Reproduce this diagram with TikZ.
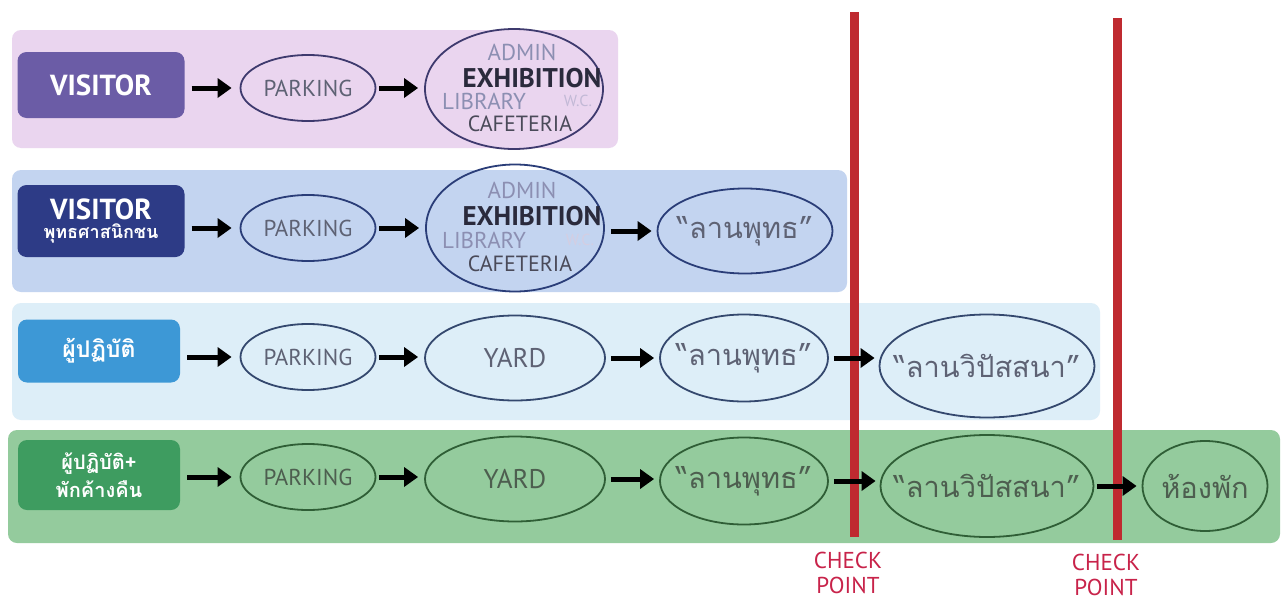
\documentclass[tikz,border=0pt]{standalone}
\usepackage{fontspec}
\setmainfont{PT Sans}
\newfontfamily\thaifont[Script=Thai]{Loma}
\usetikzlibrary{shapes.geometric,arrows.meta}
\definecolor{bgpink}{HTML}{EAD5EF}
\definecolor{bgblue}{HTML}{C3D4F0}
\definecolor{bgsky}{HTML}{DDEEF8}
\definecolor{bggreen}{HTML}{94CB9D}
\definecolor{boxpurple}{HTML}{6B5CA6}
\definecolor{boxnavy}{HTML}{2D3B86}
\definecolor{boxsky}{HTML}{3D98D6}
\definecolor{boxgreen}{HTML}{3E9C60}
\definecolor{lnpurple}{HTML}{3E3A6E}
\definecolor{lnnavy}{HTML}{2A3D78}
\definecolor{lnslate}{HTML}{34486E}
\definecolor{lngreen}{HTML}{2F5E36}
\definecolor{txtgray}{HTML}{5E6274}
\definecolor{txtgreen}{HTML}{4D5E4F}
\definecolor{chkred}{HTML}{BF2A30}
\definecolor{chktext}{HTML}{C8234A}
\definecolor{dimtext}{HTML}{8C8FB2}
\definecolor{faintext}{HTML}{C2B9D6}
\definecolor{darktext}{HTML}{2A2A3C}
\newcommand{\zw}[1]{\makebox[0pt]{#1}}
\tikzset{
  band/.style={rounded corners=9pt, draw=none},
  lbl/.style={rounded corners=9pt, text=white, align=center, inner sep=0pt},
  oval/.style={ellipse, draw, line width=1.8pt, inner sep=0pt, text=txtgray},
  flow/.style={line width=5pt, -{Triangle[length=14pt,width=19pt]}, black},
  sm/.style={font=\fontsize{23}{24}\selectfont},
  md/.style={font=\fontsize{27}{29}\selectfont},
  th/.style={font=\thaifont\fontsize{29}{31}\selectfont},
  chk/.style={text=chktext, font=\fontsize{23}{25}\selectfont, align=center},
  redline/.style={line width=9pt, chkred}
}
\begin{document}
\begin{tikzpicture}[x=1pt,y=-1pt]
\useasboundingbox[fill=white] (0,0) rectangle (1283,605);
% bands
\fill[band, bgpink] (12,30) rectangle (618,148);
\fill[band, bgblue] (12,170) rectangle (847,292);
\fill[band, bgsky] (12,303) rectangle (1100,420);
\fill[band, bggreen] (8,430) rectangle (1280,543);
% row 1
\node[lbl, fill=boxpurple, minimum width=167pt, minimum height=66pt, font=\bfseries\fontsize{29}{31}\selectfont] (v1) at (101,85) {VISITOR};
\node[oval, draw=lnpurple, minimum width=135pt, minimum height=66pt, sm] (p1) at (308,88) {\zw{PARKING}};
\node[oval, draw=lnpurple, minimum width=178pt, minimum height=120pt] (b1) at (514,89) {};
\node[text=dimtext, font=\fontsize{23}{24}\selectfont] (a1) at (522,52) {ADMIN};
\node[text=darktext, font=\bfseries\fontsize{27}{29}\selectfont] (e1) at (532,78) {EXHIBITION};
\node[text=dimtext, font=\fontsize{23}{24}\selectfont] (l1) at (484,101) {LIBRARY};
\node[text=faintext, font=\fontsize{16}{18}\selectfont] (w1) at (578,101) {W.C.};
\node[text=darktext!85, font=\fontsize{22}{24}\selectfont] (c1) at (520,124) {CAFETERIA};
\draw[flow] ([xshift=7pt]v1.east |- p1) -- ([xshift=-8pt]p1.west);
\draw[flow] ([xshift=3pt]p1.east) -- ([xshift=-6pt]b1.west |- p1);
% row 2
\node[lbl, fill=boxnavy, minimum width=167pt, minimum height=72pt] (v2) at (101,221) {{\bfseries\fontsize{29}{30}\selectfont VISITOR}\\[3pt]{\thaifont\bfseries\fontsize{18}{19}\selectfont พุทธศาสนิกชน}};
\node[oval, draw=lnnavy, minimum width=135pt, minimum height=66pt, sm] (p2) at (308,228) {\zw{PARKING}};
\node[oval, draw=lnnavy, minimum width=178pt, minimum height=127pt] (b2) at (515,228) {};
\node[text=dimtext, font=\fontsize{23}{24}\selectfont] (a2) at (522,190) {ADMIN};
\node[text=darktext, font=\bfseries\fontsize{27}{29}\selectfont] (e2) at (532,216) {EXHIBITION};
\node[text=dimtext, font=\fontsize{23}{24}\selectfont] (l2) at (484,240) {LIBRARY};
\node[text=faintext!70, font=\fontsize{16}{18}\selectfont] (w2) at (580,240) {W.C.};
\node[text=darktext!85, font=\fontsize{22}{24}\selectfont] (c2) at (520,264) {CAFETERIA};
\node[oval, draw=lnnavy, minimum width=175pt, minimum height=85pt, th] (u2) at (745,231) {\zw{“ลานพุทธ”}};
\draw[flow] ([xshift=7pt]v2.east |- p2) -- ([xshift=-8pt]p2.west);
\draw[flow] ([xshift=3pt]p2.east) -- ([xshift=-6pt]b2.west);
\draw[flow] ([xshift=6pt]b2.east |- u2) -- ([xshift=-5pt]u2.west);
% row 3
\node[lbl, fill=boxsky, minimum width=162pt, minimum height=63pt, font=\thaifont\bfseries\fontsize{23}{25}\selectfont] (v3) at (99,351) {ผู้ปฏิบัติ};
\node[oval, draw=lnslate, minimum width=135pt, minimum height=66pt, sm] (p3) at (308,357) {\zw{PARKING}};
\node[oval, draw=lnslate, minimum width=180pt, minimum height=85pt, md] (y3) at (515,358) {\zw{YARD}};
\node[oval, draw=lnslate, minimum width=168pt, minimum height=87pt, th] (u3) at (744,358) {\zw{“ลานพุทธ”}};
\node[oval, draw=lnslate, minimum width=215pt, minimum height=103pt, th] (s3) at (987,366) {\zw{“ลานวิปัสสนา”}};
% row 4
\node[lbl, fill=boxgreen, minimum width=162pt, minimum height=70pt, font=\thaifont\bfseries\fontsize{20}{28}\selectfont] (v4) at (99,475) {ผู้ปฏิบัติ+\\พักค้างคืน};
\node[oval, draw=lngreen, text=txtgreen, minimum width=135pt, minimum height=66pt, sm] (p4) at (308,477) {\zw{PARKING}};
\node[oval, draw=lngreen, text=txtgreen, minimum width=180pt, minimum height=85pt, md] (y4) at (515,479) {\zw{YARD}};
\node[oval, draw=lngreen, text=txtgreen, minimum width=168pt, minimum height=87pt, th] (u4) at (744,481) {\zw{“ลานพุทธ”}};
\node[oval, draw=lngreen, text=txtgreen, minimum width=213pt, minimum height=102pt, th] (s4) at (987,486) {\zw{“ลานวิปัสสนา”}};
\node[oval, draw=lngreen, text=txtgreen, minimum width=125pt, minimum height=90pt, th] (h4) at (1205,486) {\zw{ห้องพัก}};
% check point lines
\coordinate (k1t) at (854,12);
\coordinate (k1b) at (854,537);
\coordinate (k2t) at (1117,18);
\coordinate (k2b) at (1117,540);
\draw[redline] (k1t) -- (k1b);
\draw[redline] (k2t) -- (k2b);
\node[chk] (t1) at (848,573) {CHECK\\POINT};
\node[chk] (t2) at (1106,575) {CHECK\\POINT};
% row 3 arrows
\draw[flow] ([xshift=7pt]v3.east |- p3) -- ([xshift=-8pt]p3.west);
\draw[flow] ([xshift=3pt]p3.east) -- ([xshift=-6pt]y3.west |- p3);
\draw[flow] ([xshift=5pt]y3.east) -- ([xshift=-5pt]u3.west);
\draw[flow] ([xshift=5pt]u3.east) -- ([xshift=-4pt]s3.west |- u3);
% row 4 arrows
\draw[flow] ([xshift=7pt]v4.east |- p4) -- ([xshift=-8pt]p4.west);
\draw[flow] ([xshift=3pt]p4.east) -- ([xshift=-6pt]y4.west |- p4);
\draw[flow] ([xshift=5pt]y4.east) -- ([xshift=-5pt]u4.west |- y4);
\draw[flow] ([xshift=5pt]u4.east) -- ([xshift=-4pt]s4.west |- u4);
\draw[flow] ([xshift=3pt]s4.east) -- ([xshift=-5pt]h4.west);
\end{tikzpicture}
\end{document}
